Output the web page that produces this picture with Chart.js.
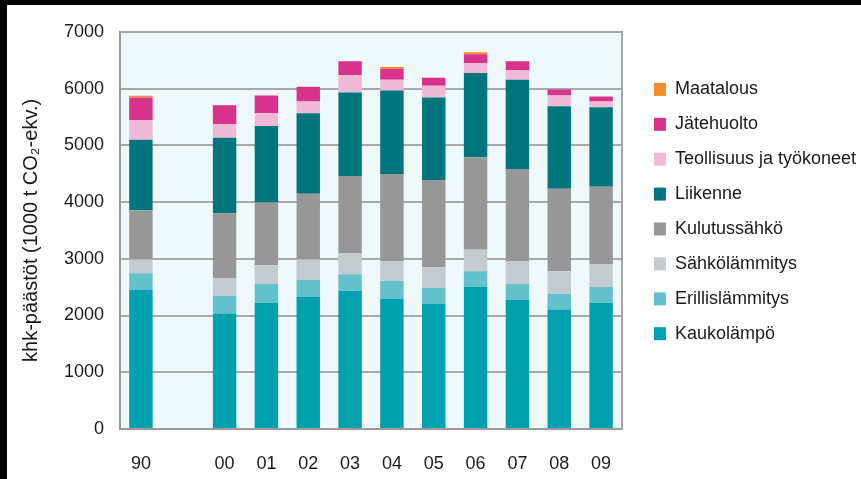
<!DOCTYPE html>
<html>
<head>
<meta charset="utf-8">
<script src="https://cdn.jsdelivr.net/npm/chart.js@4"></script>
<style>
    html, body { margin: 0; padding: 0; background: #000; overflow: hidden; width: 861px; height: 479px; }
    #wrap { position: absolute; left: 7px; top: 5px; width: 860px; height: 474px; background: #fff; }
</style>
</head>
<body>
<div id="wrap"><canvas id="emissions-chart" width="860" height="474"></canvas></div>
<script>
// years (empty slot between 1990 and 2000)
const years = ['90', '', '00', '01', '02', '03', '04', '05', '06', '07', '08', '09'];

// khk-päästöt, 1000 t CO2-ekv.
const kaukolampo = [2452, null, 2036, 2227, 2330, 2434, 2296, 2209, 2503, 2279, 2106, 2227];
const erillislammitys = [294, null, 312, 328, 294, 294, 311, 277, 277, 276, 276, 276];
const sahkolammitys = [242, null, 311, 329, 364, 364, 346, 364, 381, 398, 398, 398];
const kulutussahko = [865, null, 1142, 1107, 1159, 1366, 1540, 1539, 1626, 1627, 1454, 1367];
const liikenne = [1246, null, 1332, 1350, 1419, 1471, 1471, 1454, 1488, 1574, 1453, 1402];
const teollisuus = [346, null, 242, 225, 207, 311, 190, 207, 173, 173, 190, 103];
const jatehuolto = [398, null, 329, 311, 260, 243, 190, 139, 156, 156, 104, 87];
const maatalous = [29, null, 0, 0, 0, 0, 35, 0, 34, 0, 0, 0];

const yTicks = [0, 1000, 2000, 3000, 4000, 5000, 6000, 7000];

const font = 'Liberation Sans, Arial, sans-serif';
const textColor = '#1a1a1a';
const gridColor = '#a8aaaa';
const legendWidth = 230;

// light blue plot background
const plotBackground = {
    id: 'plotBackground',
    beforeDraw(chart) {
        const a = chart.chartArea;
        const c = chart.ctx;
        c.save();
        c.fillStyle = '#eff8fa';
        c.fillRect(a.left, a.top, a.right - a.left, a.bottom - a.top);
        c.restore();
    }
};

// the layout caps a right legend at a sixth of the canvas, let it be wider
const wideLegend = {
    id: 'wideLegend',
    beforeLayout(chart) {
        const lg = chart.legend;
        if (lg && !lg._wide) {
            const fit = lg.fit;
            lg.fit = function() {
                fit.call(this);
                this.width = legendWidth;
            };
            lg._wide = true;
        }
    }
};

function bar(label, data, color) {
    return { label: label, data: data, backgroundColor: color, borderWidth: 0 };
}

const ctx = document.getElementById('emissions-chart').getContext('2d');

const emissionsChart = new Chart(ctx, {
    type: 'bar',
    data: {
        labels: years,
        datasets: [
            bar('Kaukolämpö', kaukolampo, '#00a0ae'),
            bar('Erillislämmitys', erillislammitys, '#62c1cb'),
            bar('Sähkölämmitys', sahkolammitys, '#c5cacf'),
            bar('Kulutussähkö', kulutussahko, '#979797'),
            bar('Liikenne', liikenne, '#00757d'),
            bar('Teollisuus ja työkoneet', teollisuus, '#f0b9d7'),
            bar('Jätehuolto', jatehuolto, '#d9328a'),
            bar('Maatalous', maatalous, '#f28c2e')
        ]
    },
    options: {
        responsive: false,
        animation: false,
        categoryPercentage: 1,
        barPercentage: 0.56,
        layout: { padding: { top: 19, left: 0, right: 0, bottom: 0 } },
        scales: {
            x: {
                stacked: true,
                grid: { display: false, drawTicks: false },
                border: { display: true, color: '#9a9a9a', width: 2 },
                ticks: { autoSkip: false, maxRotation: 0, padding: 24, color: textColor, font: { family: font, size: 18 } },
                afterFit: s => { s.height = 50; }
            },
            y: {
                stacked: true,
                min: 0,
                max: 7000,
                afterBuildTicks: s => { s.ticks = yTicks.map(v => ({ value: v })); },
                grid: { color: gridColor, lineWidth: 2, drawTicks: false },
                border: { display: true, color: '#9a9a9a', width: 2 },
                ticks: { padding: 16, color: textColor, font: { family: font, size: 18 }, callback: v => String(v) },
                title: {
                    display: true,
                    text: 'khk-päästöt (1000 t CO₂-ekv.)',
                    color: textColor,
                    font: { family: font, size: 20 },
                    padding: { top: 12, bottom: 0 }
                },
                afterFit: s => { s.width = 113; }
            },
            // only the right frame line and the gap before the legend
            y2: {
                position: 'right',
                min: 0,
                max: 7000,
                grid: { display: false, drawTicks: false },
                border: { display: true, color: '#a6a6a6', width: 2 },
                ticks: { display: false },
                afterFit: s => { s.width = 245 - legendWidth; }
            }
        },
        plugins: {
            legend: {
                position: 'right',
                align: 'start',
                reverse: true,
                title: { display: true, text: ' ', color: 'rgba(0,0,0,0)', font: { size: 10 }, padding: { top: 27.5, bottom: 0 } },
                labels: {
                    boxWidth: 12,
                    boxHeight: 13,
                    padding: 16.9,
                    color: textColor,
                    font: { family: font, size: 18 }
                }
            },
            tooltip: { enabled: false }
        }
    },
    plugins: [plotBackground, wideLegend]
});
</script>
</body>
</html>
